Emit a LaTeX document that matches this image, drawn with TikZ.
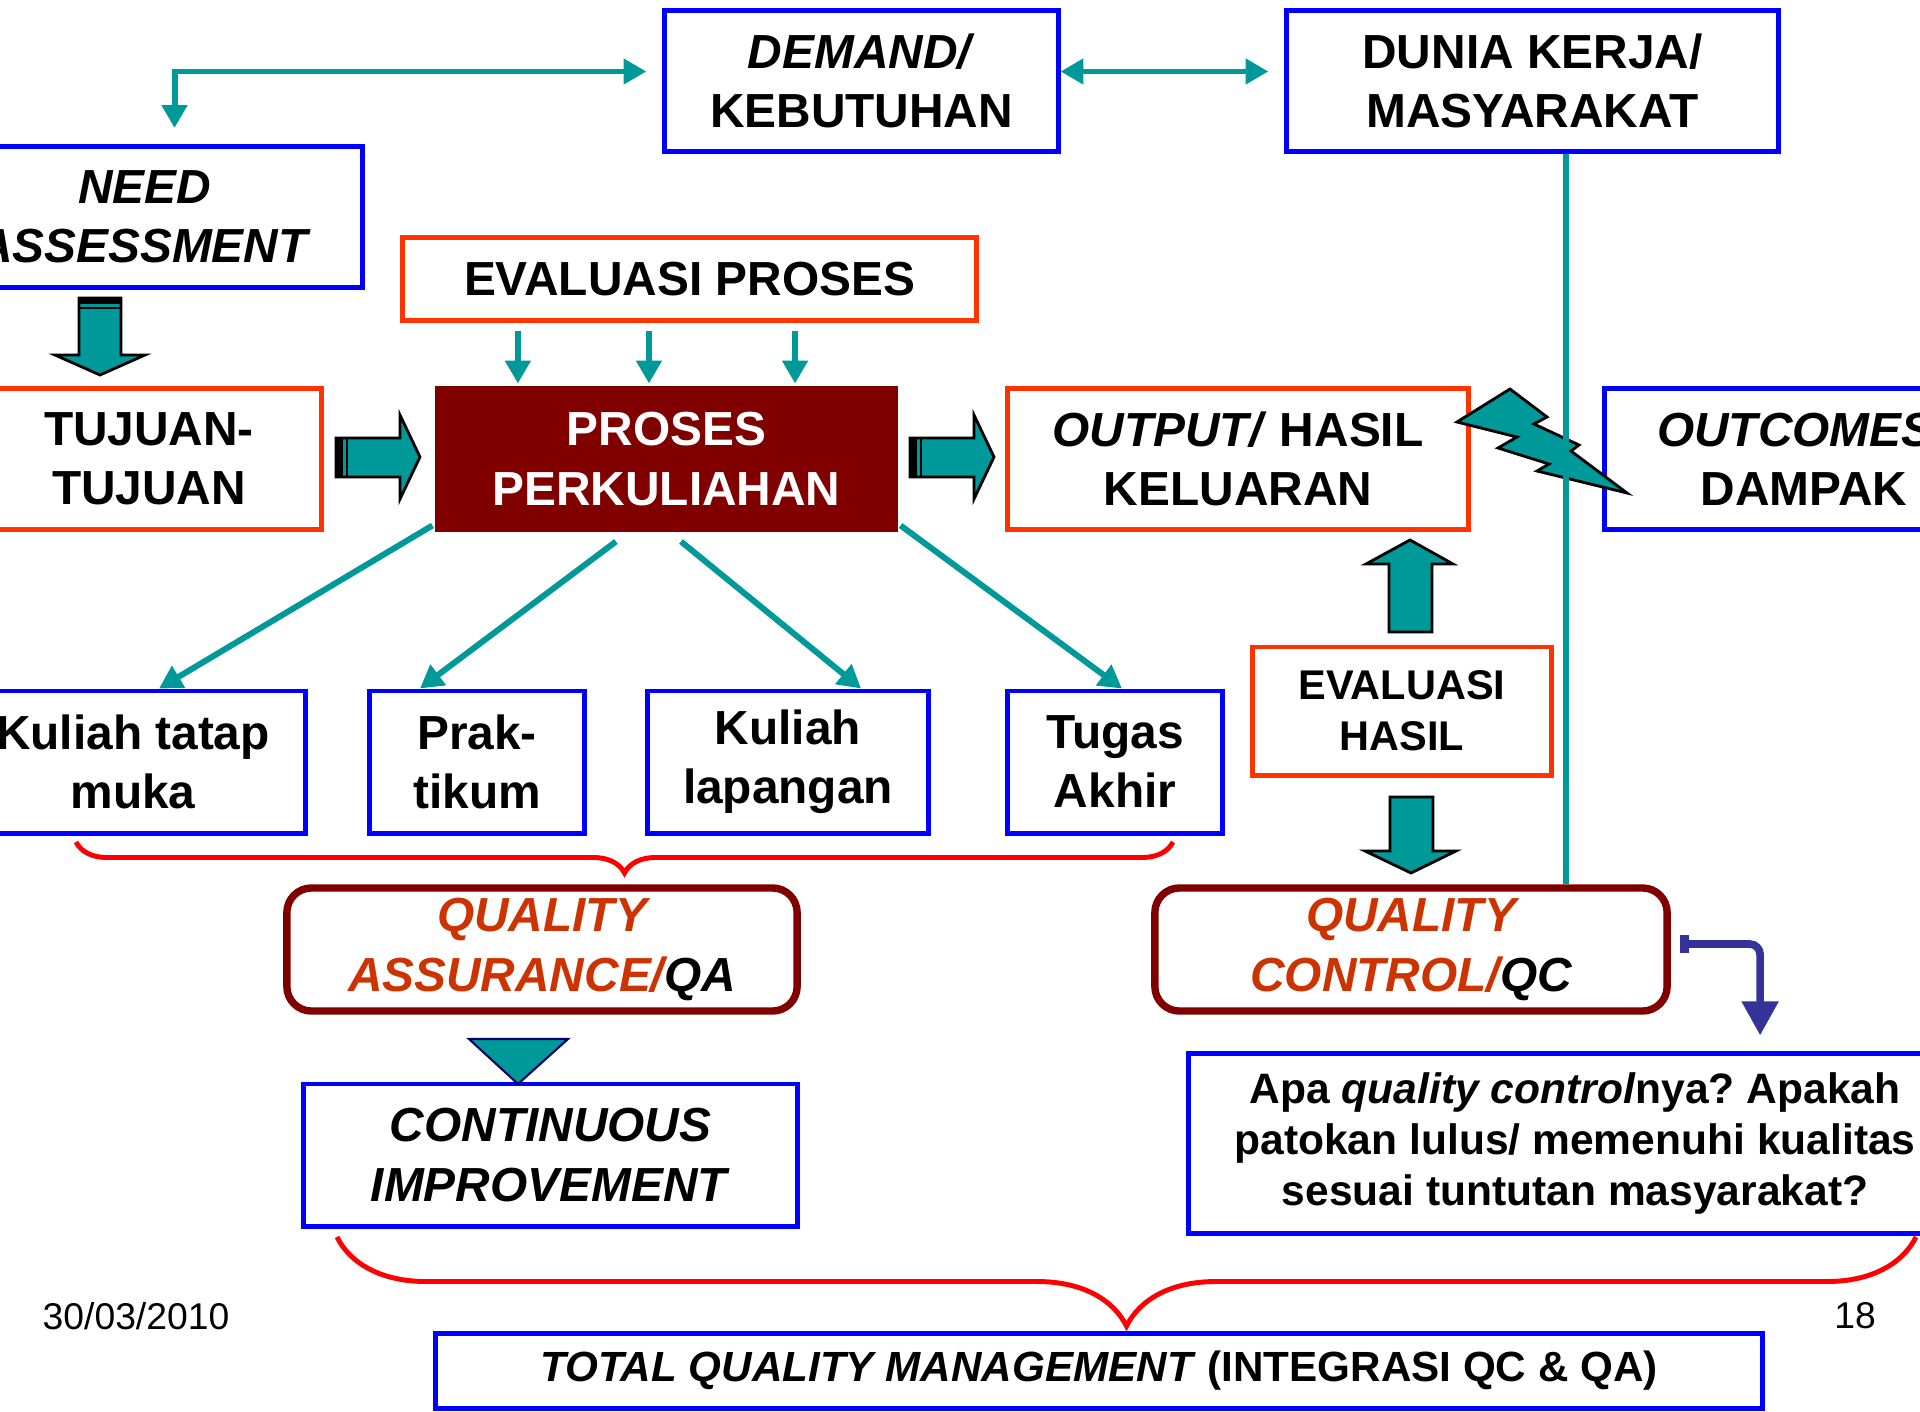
\documentclass[tikz,border=0pt]{standalone}
\usepackage{fontspec}
\setmainfont{Liberation Sans}
\frenchspacing
\usetikzlibrary{arrows.meta,decorations.pathreplacing}
\definecolor{tealc}{RGB}{0,153,153}
\definecolor{boxblue}{RGB}{0,0,255}
\definecolor{boxred}{RGB}{255,51,0}
\definecolor{maroonc}{RGB}{128,0,0}
\definecolor{qtext}{RGB}{204,51,0}
\definecolor{navyc}{RGB}{51,51,153}
\definecolor{darknavy}{RGB}{0,0,102}
\definecolor{bracered}{RGB}{255,0,0}

\begin{document}
\begin{tikzpicture}[x=0.01cm, y=-0.01cm,
  bluebox/.style={draw=boxblue, line width=1.4pt, align=center, inner sep=0pt, font=\bfseries\fontsize{13.6}{16.8}\selectfont},
  redbox/.style={bluebox, draw=boxred},
  qbox/.style={draw=maroonc, line width=2.1pt, rounded corners=7pt, align=center, inner sep=0pt, text=qtext, font=\bfseries\itshape\fontsize{13.6}{16.8}\selectfont},
  link/.style={draw=tealc, line width=1.7pt},
  tealtip/.tip={Triangle[length=6.5pt,width=7pt]},
  bararrow/.style={fill=tealc, draw=black, line width=0.8pt},
  brace/.style={draw=bracered, line width=1.4pt, decorate},
  small/.style={font=\bfseries\fontsize{11.8}{14.5}\selectfont}]
\useasboundingbox (0,0) rectangle (1920,1412);
\clip (0,0) rectangle (1920,1412);

% top row
\node[bluebox, minimum width=3.93cm, minimum height=1.41cm] (demand) at (861.5,81) {\textit{DEMAND/}\\KEBUTUHAN};
\node[bluebox, minimum width=4.91cm, minimum height=1.41cm] (dunia) at (1532.5,81) {DUNIA KERJA/\\MASYARAKAT};
\node[bluebox, minimum width=4.35cm, minimum height=1.41cm] (need) at (144.5,217) {\textit{NEED}\\\textit{ASSESSMENT}};
\node[redbox, minimum width=5.73cm, minimum height=0.83cm] (evproses) at (689.5,279) {EVALUASI PROSES};

% middle row
\node[redbox, minimum width=3.44cm, minimum height=1.41cm] (tujuan) at (149,459) {TUJUAN-\\TUJUAN};
\node[bluebox, draw=none, fill=maroonc, text=white, minimum width=4.63cm, minimum height=1.46cm] (proses) at (666.5,459) {PROSES\\PERKULIAHAN};
\node[redbox, minimum width=4.6cm, minimum height=1.41cm] (output) at (1238,459) {\textit{OUTPUT/} HASIL\\KELUARAN};
\node[bluebox, minimum width=3.98cm, minimum height=1.41cm] (outcomes) at (1804,459) {\textit{OUTCOMES/}\\DAMPAK};
\node[redbox, small, minimum width=2.98cm, minimum height=1.28cm] (evhasil) at (1402,711) {EVALUASI\\HASIL};

% kegiatan
\node[bluebox, minimum width=3.44cm, minimum height=1.42cm] (kuliah) at (133,762) {Kuliah tatap\\muka};
\node[bluebox, minimum width=2.14cm, minimum height=1.42cm] (praktikum) at (477,762) {Prak-\\tikum};
\node[bluebox, minimum width=2.8cm, minimum height=1.42cm] (lapangan) at (788,762) {Kuliah\\lapangan};
\node[bluebox, minimum width=2.14cm, minimum height=1.42cm] (tugas) at (1115,762) {Tugas\\Akhir};

% quality
\node[qbox, minimum width=5.1cm, minimum height=1.23cm] (qa) at (542,949.5) {QUALITY\\ASSURANCE/\textcolor{black}{QA}};
\node[qbox, minimum width=5.12cm, minimum height=1.23cm] (qc) at (1411,949.5) {QUALITY\\CONTROL/\textcolor{black}{QC}};
\node[bluebox, minimum width=4.93cm, minimum height=1.42cm] (contimp) at (550.5,1155) {\textit{CONTINUOUS}\\\textit{IMPROVEMENT}};
\node[bluebox, font=\bfseries\fontsize{12.1}{14.6}\selectfont, minimum width=7.72cm, minimum height=1.79cm] (question) at (1575,1143.5) {Apa \textit{quality control}nya? Apakah\\patokan lulus/ memenuhi kualitas\\sesuai tuntutan masyarakat?};
\node[bluebox, font=\bfseries\fontsize{12}{14}\selectfont, minimum width=13.26cm, minimum height=0.75cm] (tqm) at (1099,1371) {\textit{TOTAL QUALITY MANAGEMENT} (INTEGRASI QC \& QA)};

\node[font=\fontsize{10.6}{12}\selectfont] (date) at (136,1316) {30/03/2010};
\node[font=\fontsize{10.6}{12}\selectfont] (page) at (1855,1316) {18};

% connectors
\draw[link, tealtip-tealtip, shorten <=0.16cm, shorten >=0.16cm] ([xshift=0.3cm]need.north) |- ([yshift=0.095cm]demand.west);
\draw[link, tealtip-tealtip, shorten >=0.16cm] ([yshift=0.095cm]demand.east) -- ([yshift=0.095cm]dunia.west);
\foreach \dx in {-1.715,-0.405,1.055}
  \draw[link, -tealtip, shorten <=0.08cm] ([xshift=\dx cm]evproses.south) -- ([xshift=\dx cm]evproses.south |- proses.north);
\draw[link, -tealtip] ([yshift=0.09cm]proses.south west) -- ([xshift=0.26cm]kuliah.north);
\draw[link, -tealtip] ([xshift=-0.505cm,yshift=-0.07cm]proses.south) -- ([xshift=-0.57cm]praktikum.north);
\draw[link, -tealtip] ([xshift=0.145cm,yshift=-0.07cm]proses.south) -- ([xshift=0.73cm]lapangan.north);
\draw[link, -tealtip] ([yshift=0.09cm]proses.south east) -- ([xshift=0.07cm]tugas.north);

% block arrows
\filldraw[bararrow] (336,438) -- (400,438) -- (400,415) -- (420,457) -- (400,499) -- (400,477) -- (336,477) -- cycle;
\fill (336,438) rectangle (343,477);
\draw[black, line width=0.8pt] (347,438) -- (347,477);
\filldraw[bararrow] (910,438) -- (974,438) -- (974,415) -- (994,457) -- (974,499) -- (974,477) -- (910,477) -- cycle;
\fill (910,438) rectangle (917,477);
\draw[black, line width=0.8pt] (921,438) -- (921,477);
\filldraw[bararrow] (79,298) -- (79,355) -- (55,355) -- (100,375) -- (145,355) -- (121,355) -- (121,298) -- cycle;
\fill (79,298) rectangle (121,304);
\draw[black, line width=0.8pt] (79,308) -- (121,308);
\filldraw[bararrow] (1389,632) -- (1389,564) -- (1366,564) -- (1410,540) -- (1453,564) -- (1432,564) -- (1432,632) -- cycle;
\filldraw[bararrow] (1390,797) -- (1390,851) -- (1365,851) -- (1411,873) -- (1456,851) -- (1433,851) -- (1433,797) -- cycle;

% petir
\filldraw[bararrow] (1457,422) -- (1510,389) -- (1547,417) -- (1534,424) -- (1579,445) -- (1571,451) -- (1627,493) -- (1537,471) -- (1549,464) -- (1498,448) -- (1517,437) -- cycle;

\coordinate (dk) at ([xshift=0.335cm]dunia.south);
\draw[link, line width=1.8pt] (dk) -- (dk |- qc.north);

\draw[navyc, line width=2.2pt, rounded corners=3pt, {Rectangle[length=2.6pt,width=5pt]}-{Triangle[length=9.7pt,width=10pt]}, shorten <=0.09cm, shorten >=0.16cm] ([yshift=0.055cm]qc.east) -| ([xshift=1.85cm]question.north);

\filldraw[fill=tealc, draw=darknavy, line width=0.6pt] (469,1039) -- (568,1039) -- (518,1084) -- cycle;

% kurung
\draw[brace, decoration={brace, mirror, amplitude=0.31cm}] (76,842) -- (1173,842);
\draw[brace, decoration={brace, mirror, amplitude=0.89cm}] (337,1237) -- (1916,1237);
\end{tikzpicture}
\end{document}
